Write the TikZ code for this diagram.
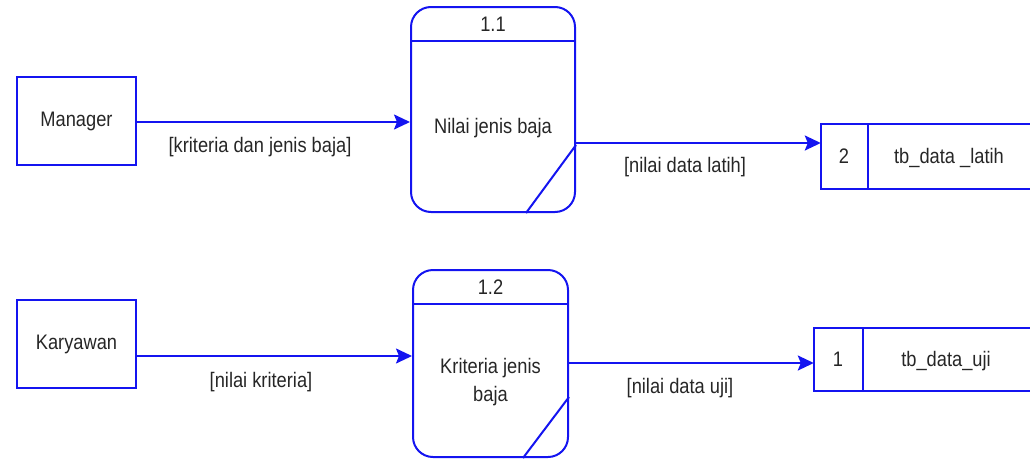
\documentclass[tikz,border=0pt]{standalone}
\usepackage{fontspec}
\setmainfont{Liberation Sans}
\usetikzlibrary{arrows.meta,calc}
\definecolor{dfd}{RGB}{20,20,240}
\newcommand{\sq}[1]{\scalebox{0.87}[1]{#1}}
\tikzset{
  base/.style={draw=dfd, line width=2pt},
  entity/.style={base, rectangle, minimum width=119pt, minimum height=88pt, inner sep=0pt},
  proc/.style={base, rectangle, rounded corners=20pt, inner sep=0pt},
  store/.style={rectangle, inner sep=0pt},
  flow/.style={draw=dfd, line width=2pt, -{Stealth[length=16pt,width=15pt,inset=3pt]}},
  lbl/.style={font=\fontsize{21}{25}\selectfont, text=black!85, inner sep=0pt},
}
\begin{document}
\begin{tikzpicture}[x=1pt,y=-1pt]
\useasboundingbox (0,0) rectangle (1030,458);
% entities
\node[entity] (man) at (76.5,121) {};
\node[lbl] (mant) at (man) {\sq{Manager}};
\node[entity] (kar) at (76.5,344) {};
\node[lbl] (kart) at (kar) {\sq{Karyawan}};
% processes
\node[proc, minimum width=164pt, minimum height=205pt] (p1) at (493,109.5) {};
\draw[base] ([yshift=-35pt]p1.north west) -- ([yshift=-35pt]p1.north east);
\node[lbl] (p1n) at (493,24) {\sq{1.1}};
\node[lbl] (p1t) at (493,128) {\sq{Nilai jenis baja}};
\node[proc, minimum width=155pt, minimum height=187pt] (p2) at (490.5,363.5) {};
\draw[base] ([yshift=-35pt]p2.north west) -- ([yshift=-35pt]p2.north east);
\node[lbl] (p2n) at (490.5,287) {\sq{1.2}};
\node[lbl, align=center] (p2t) at (490.5,382) {\sq{Kriteria jenis}\\[3pt]\sq{baja}};
% diagonals
\draw[base] ([yshift=-35.5pt]p1.east) -- ([xshift=-50pt]p1.south east);
\draw[base] ([yshift=-33.5pt]p2.east) -- ([xshift=-46pt]p2.south east);
% data stores
\node[store, minimum width=209pt, minimum height=65pt] (d2) at (925.5,156.5) {};
\draw[base] (d2.north east) -- (d2.north west) -- (d2.south west) -- (d2.south east);
\draw[base] ([xshift=47pt]d2.north west) -- ([xshift=47pt]d2.south west);
\node[lbl] (d2n) at (844,156) {\sq{2}};
\node[lbl] (d2t) at (949,158) {\sq{tb\_data \_latih}};
\node[store, minimum width=216pt, minimum height=63pt] (d1) at (922,359.5) {};
\draw[base] (d1.north east) -- (d1.north west) -- (d1.south west) -- (d1.south east);
\draw[base] ([xshift=49pt]d1.north west) -- ([xshift=49pt]d1.south west);
\node[lbl] (d1n) at (838,359) {\sq{1}};
\node[lbl] (d1t) at (946,361) {\sq{tb\_data\_uji}};
% flows
\draw[flow] ([yshift=-1pt]man.east) -- ([yshift=-1pt]man.east -| p1.west);
\draw[flow] ([yshift=-33.5pt]p1.east) -- ([yshift=-33.5pt]p1.east -| d2.west);
\draw[flow] ([yshift=-12pt]kar.east) -- ([yshift=-12pt]kar.east -| p2.west);
\draw[flow] ([yshift=0.5pt]p2.east) -- ([yshift=0.5pt]p2.east -| d1.west);
% labels
\node[lbl] (l1) at (260,147) {\sq{[kriteria dan jenis baja]}};
\node[lbl] (l2) at (685,167) {\sq{[nilai data latih]}};
\node[lbl] (l3) at (261,382) {\sq{[nilai kriteria]}};
\node[lbl] (l4) at (680,388) {\sq{[nilai data uji]}};
\end{tikzpicture}
\end{document}
